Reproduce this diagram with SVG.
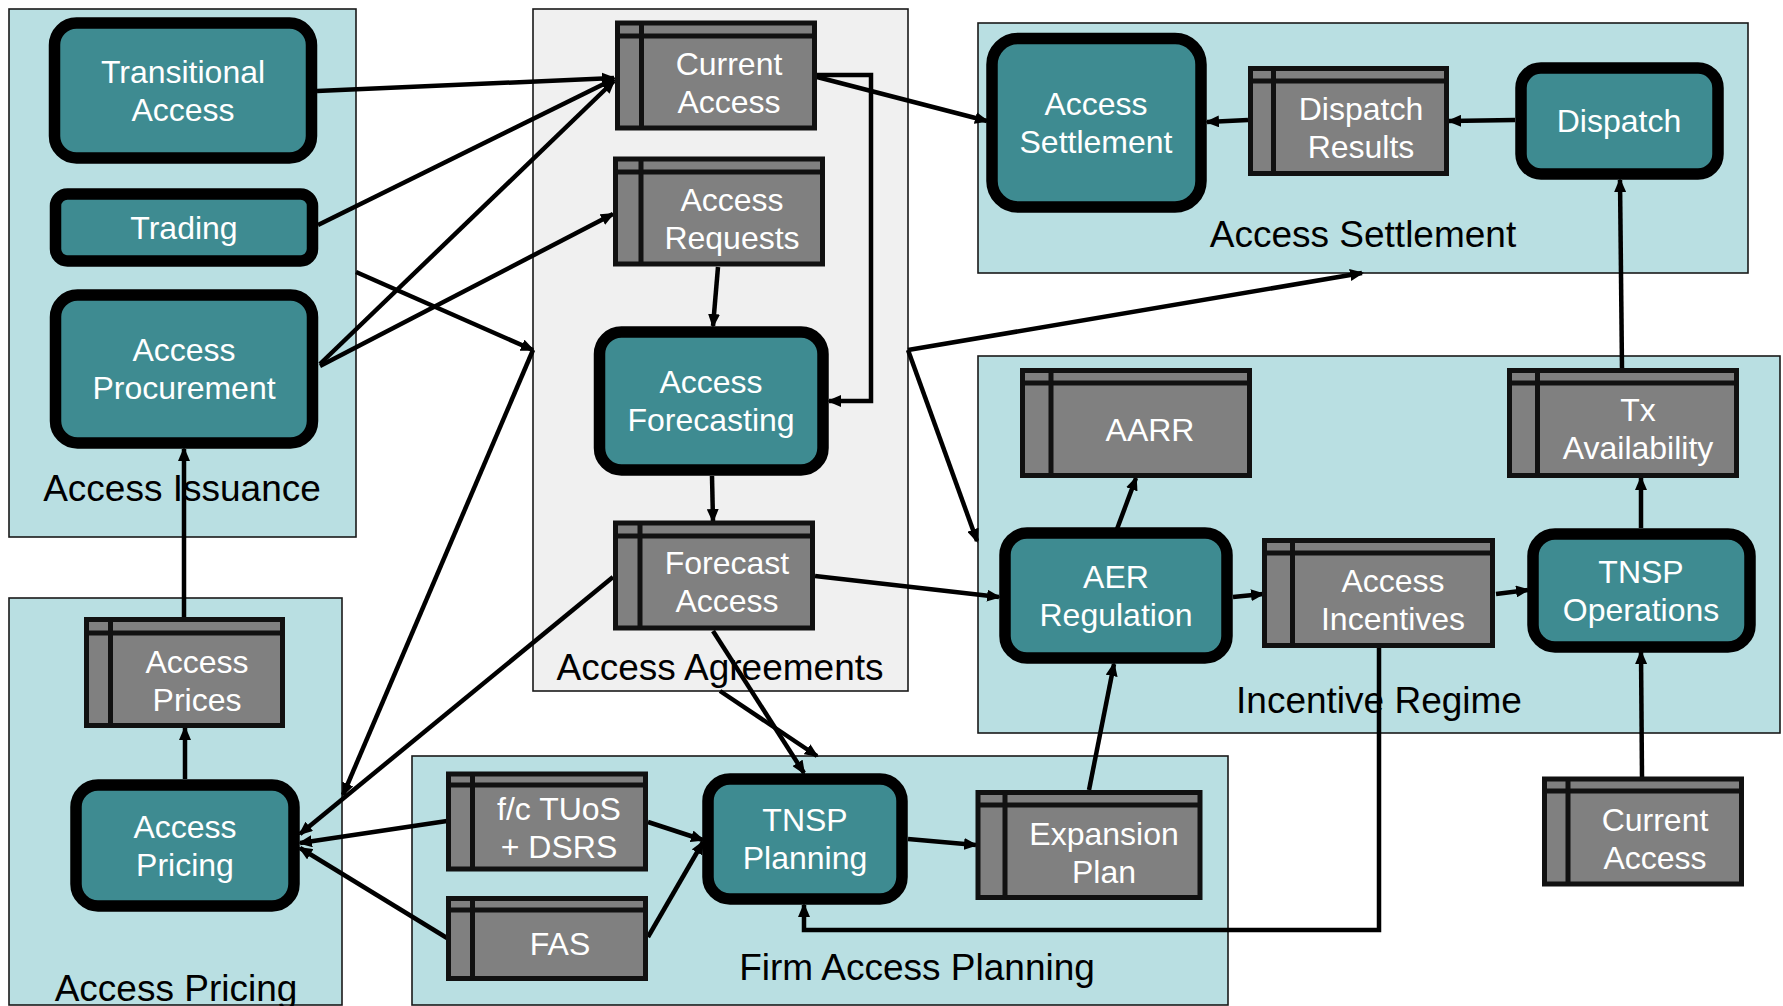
<svg xmlns="http://www.w3.org/2000/svg" width="1783" height="1006" viewBox="0 0 1783 1006">
  <style>
    .grp { fill: #b9dfe2; stroke: #1a1a1a; stroke-width: 1.6; }
    .grp-gray { fill: #f0f0f0; stroke: #1a1a1a; stroke-width: 1.6; }
    .glabel { font-family: "Liberation Sans", Arial, sans-serif; font-size: 37px; fill: #000; text-anchor: middle; }
    .proc { fill: #3e8b91; stroke: #000; stroke-width: 11.5; }
    .store { fill: #808080; stroke: #111; stroke-width: 5; }
    .sline { stroke: #111; stroke-width: 5; }
    .ntext { font-family: "Liberation Sans", Arial, sans-serif; font-size: 32px; fill: #fff; text-anchor: middle; }
    .conn { fill: none; stroke: #000; stroke-width: 4.5; stroke-linejoin: miter; marker-end: url(#arrow); }
  </style>
  <defs>
    <marker id="arrow" viewBox="0 0 14 12" refX="12" refY="6" markerWidth="14" markerHeight="12" markerUnits="userSpaceOnUse" orient="auto">
      <path d="M0,0 L14,6 L0,12 z" fill="#000"/>
    </marker>
  </defs>

  <rect width="1783" height="1006" fill="#fff"/>

  <!-- swimlane groups -->
  <g id="groups">
    <g id="grp-access-issuance">
      <rect class="grp" x="9" y="9" width="347" height="528"/>
      <text class="glabel" x="182" y="501">Access Issuance</text>
    </g>
    <g id="grp-access-agreements">
      <rect class="grp-gray" x="533" y="9" width="375" height="682"/>
      <text class="glabel" x="720" y="680">Access Agreements</text>
    </g>
    <g id="grp-access-settlement">
      <rect class="grp" x="978" y="23" width="770" height="250"/>
      <text class="glabel" x="1363" y="247">Access Settlement</text>
    </g>
    <g id="grp-incentive-regime">
      <rect class="grp" x="978" y="356" width="802" height="377"/>
      <text class="glabel" x="1379" y="713">Incentive Regime</text>
    </g>
    <g id="grp-access-pricing">
      <rect class="grp" x="9" y="598" width="333" height="407"/>
      <text class="glabel" x="176" y="1001">Access Pricing</text>
    </g>
    <g id="grp-firm-access-planning">
      <rect class="grp" x="412" y="756" width="816" height="249"/>
      <text class="glabel" x="917" y="980">Firm Access Planning</text>
    </g>
  </g>

  <!-- connectors -->
  <g id="connectors">
    <path class="conn" d="M317,91 L614,78"/>
    <path class="conn" d="M318,225 L614,79"/>
    <path class="conn" d="M320,364 L614,81"/>
    <path class="conn" d="M320,366 L613,214"/>
    <path class="conn" d="M356,272 L533,350"/>
    <path class="conn" d="M533,350 L343,795"/>
    <path class="conn" d="M908,350 L1362,273"/>
    <path class="conn" d="M908,350 L977,541"/>
    <path class="conn" d="M720,691 L817,756"/>
    <path class="conn" d="M817,77 L987,121"/>
    <path class="conn" d="M817,75 L871,75 L871,401 L829,401"/>
    <path class="conn" d="M718,267 L713,326"/>
    <path class="conn" d="M712,476 L713,521"/>
    <path class="conn" d="M815,576 L999,597"/>
    <path class="conn" d="M713,631 L804,773"/>
    <path class="conn" d="M613,577 L300,834"/>
    <path class="conn" d="M447,821 L300,843"/>
    <path class="conn" d="M447,938 L300,848"/>
    <path class="conn" d="M185,779 L185,728"/>
    <path class="conn" d="M184,617 L184,449"/>
    <path class="conn" d="M648,822 L703,840"/>
    <path class="conn" d="M648,937 L703,842"/>
    <path class="conn" d="M908,839 L976,845"/>
    <path class="conn" d="M1089,790 L1114,664"/>
    <path class="conn" d="M1233,597 L1263,594"/>
    <path class="conn" d="M1496,594 L1528,590"/>
    <path class="conn" d="M1379,648 L1379,930 L804,930 L804,905"/>
    <path class="conn" d="M1642,777 L1641,652"/>
    <path class="conn" d="M1641,528 L1641,478"/>
    <path class="conn" d="M1622,368 L1620,180"/>
    <path class="conn" d="M1515,120 L1449,121"/>
    <path class="conn" d="M1248,120 L1207,122"/>
    <path class="conn" d="M1117,529 L1136,478"/>
  </g>

  <!-- process nodes -->
  <g id="transitional-access">
    <rect class="proc" x="54.5" y="23" width="257" height="135" rx="22"/>
    <text class="ntext" x="183" y="83">Transitional</text>
    <text class="ntext" x="183" y="121">Access</text>
  </g>
  <g id="trading">
    <rect class="proc" x="55.5" y="194" width="257" height="67" rx="12"/>
    <text class="ntext" x="184" y="239">Trading</text>
  </g>
  <g id="access-procurement">
    <rect class="proc" x="55.5" y="295" width="257" height="148" rx="22"/>
    <text class="ntext" x="184" y="361">Access</text>
    <text class="ntext" x="184" y="399">Procurement</text>
  </g>
  <g id="access-forecasting">
    <rect class="proc" x="599.5" y="332" width="223.5" height="138" rx="22"/>
    <text class="ntext" x="711" y="393">Access</text>
    <text class="ntext" x="711" y="431">Forecasting</text>
  </g>
  <g id="access-settlement">
    <rect class="proc" x="992" y="38.5" width="209" height="168.5" rx="26"/>
    <text class="ntext" x="1096" y="115">Access</text>
    <text class="ntext" x="1096" y="153">Settlement</text>
  </g>
  <g id="dispatch">
    <rect class="proc" x="1521" y="68" width="197" height="106" rx="20"/>
    <text class="ntext" x="1619" y="132">Dispatch</text>
  </g>
  <g id="aer-regulation">
    <rect class="proc" x="1005" y="533" width="222" height="125" rx="22"/>
    <text class="ntext" x="1116" y="588">AER</text>
    <text class="ntext" x="1116" y="626">Regulation</text>
  </g>
  <g id="tnsp-operations">
    <rect class="proc" x="1533" y="534" width="217" height="113" rx="22"/>
    <text class="ntext" x="1641" y="583">TNSP</text>
    <text class="ntext" x="1641" y="621">Operations</text>
  </g>
  <g id="tnsp-planning">
    <rect class="proc" x="708" y="779" width="194" height="120" rx="22"/>
    <text class="ntext" x="805" y="831">TNSP</text>
    <text class="ntext" x="805" y="869">Planning</text>
  </g>
  <g id="access-pricing">
    <rect class="proc" x="76" y="785" width="218" height="121" rx="22"/>
    <text class="ntext" x="185" y="838">Access</text>
    <text class="ntext" x="185" y="876">Pricing</text>
  </g>

  <!-- data store nodes -->
  <g id="current-access-agreements">
    <rect class="store" x="617.5" y="23" width="197" height="105"/>
    <line class="sline" x1="617.5" y1="36" x2="814.5" y2="36"/>
    <line class="sline" x1="641.5" y1="23" x2="641.5" y2="128"/>
    <text class="ntext" x="729" y="75">Current</text>
    <text class="ntext" x="729" y="113">Access</text>
  </g>
  <g id="access-requests">
    <rect class="store" x="615.5" y="159" width="207" height="105"/>
    <line class="sline" x1="615.5" y1="172" x2="822.5" y2="172"/>
    <line class="sline" x1="641" y1="159" x2="641" y2="264"/>
    <text class="ntext" x="732" y="211">Access</text>
    <text class="ntext" x="732" y="249">Requests</text>
  </g>
  <g id="forecast-access">
    <rect class="store" x="615.5" y="523" width="197" height="105"/>
    <line class="sline" x1="615.5" y1="536" x2="812.5" y2="536"/>
    <line class="sline" x1="640" y1="523" x2="640" y2="628"/>
    <text class="ntext" x="727" y="574">Forecast</text>
    <text class="ntext" x="727" y="612">Access</text>
  </g>
  <g id="dispatch-results">
    <rect class="store" x="1250.5" y="68.5" width="196" height="105"/>
    <line class="sline" x1="1250.5" y1="81" x2="1446.5" y2="81"/>
    <line class="sline" x1="1273.5" y1="68.5" x2="1273.5" y2="173.5"/>
    <text class="ntext" x="1361" y="120">Dispatch</text>
    <text class="ntext" x="1361" y="158">Results</text>
  </g>
  <g id="aarr">
    <rect class="store" x="1022.5" y="370.5" width="227" height="105"/>
    <line class="sline" x1="1022.5" y1="383" x2="1249.5" y2="383"/>
    <line class="sline" x1="1051" y1="370.5" x2="1051" y2="475.5"/>
    <text class="ntext" x="1150" y="441">AARR</text>
  </g>
  <g id="tx-availability">
    <rect class="store" x="1509.5" y="370.5" width="227" height="105"/>
    <line class="sline" x1="1509.5" y1="383" x2="1736.5" y2="383"/>
    <line class="sline" x1="1537.5" y1="370.5" x2="1537.5" y2="475.5"/>
    <text class="ntext" x="1638" y="421">Tx</text>
    <text class="ntext" x="1638" y="459">Availability</text>
  </g>
  <g id="access-incentives">
    <rect class="store" x="1264.5" y="540.5" width="228" height="105"/>
    <line class="sline" x1="1264.5" y1="553" x2="1492.5" y2="553"/>
    <line class="sline" x1="1292.5" y1="540.5" x2="1292.5" y2="645.5"/>
    <text class="ntext" x="1393" y="592">Access</text>
    <text class="ntext" x="1393" y="630">Incentives</text>
  </g>
  <g id="current-access-operations">
    <rect class="store" x="1544.5" y="779" width="197" height="105"/>
    <line class="sline" x1="1544.5" y1="791" x2="1741.5" y2="791"/>
    <line class="sline" x1="1568" y1="779" x2="1568" y2="884"/>
    <text class="ntext" x="1655" y="831">Current</text>
    <text class="ntext" x="1655" y="869">Access</text>
  </g>
  <g id="access-prices">
    <rect class="store" x="86.5" y="619.5" width="196" height="106"/>
    <line class="sline" x1="86.5" y1="633" x2="282.5" y2="633"/>
    <line class="sline" x1="110.5" y1="619.5" x2="110.5" y2="725.5"/>
    <text class="ntext" x="197" y="673">Access</text>
    <text class="ntext" x="197" y="711">Prices</text>
  </g>
  <g id="fc-tuos-dsrs">
    <rect class="store" x="448.5" y="774" width="197" height="95"/>
    <line class="sline" x1="448.5" y1="785" x2="645.5" y2="785"/>
    <line class="sline" x1="472.5" y1="774" x2="472.5" y2="869"/>
    <text class="ntext" x="559" y="820">f/c TUoS</text>
    <text class="ntext" x="559" y="858">+ DSRS</text>
  </g>
  <g id="fas">
    <rect class="store" x="448.5" y="898.5" width="197" height="80"/>
    <line class="sline" x1="448.5" y1="910" x2="645.5" y2="910"/>
    <line class="sline" x1="472.5" y1="898.5" x2="472.5" y2="978.5"/>
    <text class="ntext" x="560" y="955">FAS</text>
  </g>
  <g id="expansion-plan">
    <rect class="store" x="978" y="792.5" width="222" height="105"/>
    <line class="sline" x1="978" y1="805" x2="1200" y2="805"/>
    <line class="sline" x1="1005" y1="792.5" x2="1005" y2="897.5"/>
    <text class="ntext" x="1104" y="845">Expansion</text>
    <text class="ntext" x="1104" y="883">Plan</text>
  </g>
</svg>
